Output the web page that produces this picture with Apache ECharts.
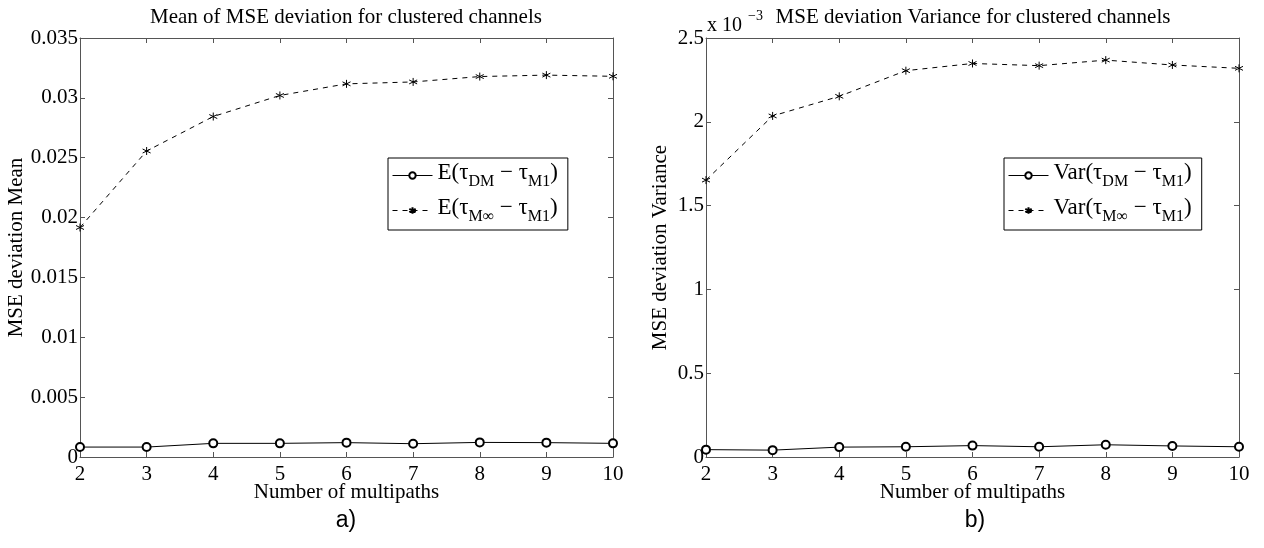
<!DOCTYPE html>
<html><head><meta charset="utf-8">
<script src="https://cdn.jsdelivr.net/npm/echarts@6/dist/echarts.min.js"></script>
<style>html,body{margin:0;padding:0;background:#fff}#c{width:1264px;height:548px}</style>
</head><body><div id="c"></div>
<script>
// ---- data ----
const multipaths = [2, 3, 4, 5, 6, 7, 8, 9, 10];
const meanDM   = [0.00083, 0.00083, 0.00114, 0.00114, 0.0012, 0.00111, 0.00122, 0.0012, 0.00114];
const meanMinf = [0.01917, 0.02556, 0.02844, 0.0302, 0.03117, 0.03133, 0.03178, 0.0319, 0.0318];
// variance values in units of 10^-3
const varDM   = [0.044, 0.041, 0.059, 0.061, 0.068, 0.061, 0.073, 0.066, 0.061];
const varMinf = [1.652, 2.035, 2.152, 2.305, 2.348, 2.335, 2.368, 2.339, 2.319];
const meanTickLabels = ['0', '0.005', '0.01', '0.015', '0.02', '0.025', '0.03', '0.035'];
const varTickLabels  = ['0', '0.5', '1', '1.5', '2', '2.5'];
const xTickLabels    = ['2', '3', '4', '5', '6', '7', '8', '9', '10'];

const FONT = '"Liberation Serif", "DejaVu Serif", serif';
const AX = '#555';
const STAR = 'path://M5,0L5,10M0.67,2.5L9.33,7.5M0.67,7.5L9.33,2.5';

const legendText = {
  mDM:   '{m|E(τ}{s|DM}{m| − τ}{s|M1}{m|)}',
  mMinf: '{m|E(τ}{s|M∞}{m| − τ}{s|M1}{m|)}',
  vDM:   '{m|Var(τ}{s|DM}{m| − τ}{s|M1}{m|)}',
  vMinf: '{m|Var(τ}{s|M∞}{m| − τ}{s|M1}{m|)}'
};

function pairs(ys) { return multipaths.map((x, i) => [x, ys[i]]); }

function xAx(grid, pos, name) {
  return {
    type: 'value', gridIndex: grid, position: pos, min: 2, max: 10, interval: 1,
    name: name || '', nameLocation: 'middle', nameGap: 25, nameMoveOverlap: false,
    nameTextStyle: { fontFamily: FONT, fontSize: 21, color: '#000' },
    axisLine: { show: true, onZero: false, lineStyle: { color: AX, width: 1 } },
    axisTick: { show: true, inside: true, length: 5, lineStyle: { color: AX } },
    axisLabel: { show: pos === 'bottom', margin: 7, fontFamily: FONT, fontSize: 21, color: '#000',
      formatter: v => xTickLabels[Math.round(v - 2)] },
    splitLine: { show: false }
  };
}
function yAx(grid, pos, max, interval, labels, name, gap) {
  return {
    type: 'value', gridIndex: grid, position: pos, min: 0, max: max, interval: interval,
    name: name || '', nameLocation: 'middle', nameGap: gap || 52,
    nameTextStyle: { fontFamily: FONT, fontSize: 21, color: '#000' },
    axisLine: { show: true, onZero: false, lineStyle: { color: AX, width: 1 } },
    axisTick: { show: true, inside: true, length: 5, lineStyle: { color: AX } },
    axisLabel: { show: pos === 'left', margin: 2, fontFamily: FONT, fontSize: 21, color: '#000',
      formatter: v => labels[Math.round(v / interval)] },
    splitLine: { show: false }
  };
}
function line(name, xi, yi, ys, dashed) {
  return {
    type: 'line', name: name, xAxisIndex: xi, yAxisIndex: yi, data: pairs(ys),
    symbol: dashed ? STAR : 'emptyCircle', symbolSize: 8,
    showAllSymbol: true, animation: false,
    lineStyle: { color: '#000', width: 1, type: dashed ? [5, 5] : 'solid' },
    itemStyle: { color: '#000', borderColor: '#000', borderWidth: dashed ? 1 : 0.8 }
  };
}
function legend(names, left) {
  return {
    data: names, orient: 'vertical', left: left, top: 158,
    padding: [3, 10, 5, 4], itemGap: 6, itemWidth: 40, itemHeight: 8,
    borderColor: '#000', borderWidth: 1, backgroundColor: '#fff',
    lineStyle: { width: 1 },
    formatter: n => legendText[n],
    textStyle: {
      fontFamily: FONT, fontSize: 22, color: '#000',
      rich: {
        m: { fontFamily: FONT, fontSize: 23, color: '#000', lineHeight: 29, verticalAlign: 'top' },
        s: { fontFamily: FONT, fontSize: 16, color: '#000', lineHeight: 16, verticalAlign: 'bottom' }
      }
    }
  };
}

const chart = echarts.init(document.getElementById('c'), null, { renderer: 'canvas' });
chart.setOption({
  animation: false,
  backgroundColor: '#fff',
  grid: [
    { left: 80, top: 38, width: 533, height: 419 },
    { left: 706, top: 38, width: 533, height: 419 }
  ],
  xAxis: [xAx(0, 'bottom', 'Number of multipaths'), xAx(0, 'top'), xAx(1, 'bottom', 'Number of multipaths'), xAx(1, 'top')],
  yAxis: [
    yAx(0, 'left', 0.035, 0.005, meanTickLabels, 'MSE deviation Mean', 52), yAx(0, 'right', 0.035, 0.005, meanTickLabels),
    yAx(1, 'left', 2.5, 0.5, varTickLabels, 'MSE deviation Variance', 35), yAx(1, 'right', 2.5, 0.5, varTickLabels)
  ],
  legend: [legend(['mDM', 'mMinf'], 388), legend(['vDM', 'vMinf'], 1004)],
  series: [
    line('mDM', 0, 0, meanDM, false), line('mMinf', 0, 0, meanMinf, true),
    line('vDM', 2, 2, varDM, false), line('vMinf', 2, 2, varMinf, true)
  ],
  graphic: [
    { type: 'text', x: 346, y: 17, style: { text: 'Mean of MSE deviation for clustered channels', font: '21px ' + FONT, fill: '#000', align: 'center', verticalAlign: 'middle' } },
    { type: 'text', x: 973, y: 17, style: { text: 'MSE deviation Variance for clustered channels', font: '21px ' + FONT, fill: '#000', align: 'center', verticalAlign: 'middle' } },
    { type: 'text', x: 707, y: 36, style: { text: 'x 10', font: '20px ' + FONT, fill: '#000', align: 'left', verticalAlign: 'bottom' } },
    { type: 'text', x: 748, y: 23, style: { text: '−3', font: '14px ' + FONT, fill: '#000', align: 'left', verticalAlign: 'bottom' } },
    { type: 'text', x: 346, y: 521, style: { text: 'a)', font: '23px "Liberation Sans", Arial, sans-serif', fill: '#000', align: 'center', verticalAlign: 'middle' } },
    { type: 'text', x: 975, y: 521, style: { text: 'b)', font: '23px "Liberation Sans", Arial, sans-serif', fill: '#000', align: 'center', verticalAlign: 'middle' } }
  ]
});
</script></body></html>
